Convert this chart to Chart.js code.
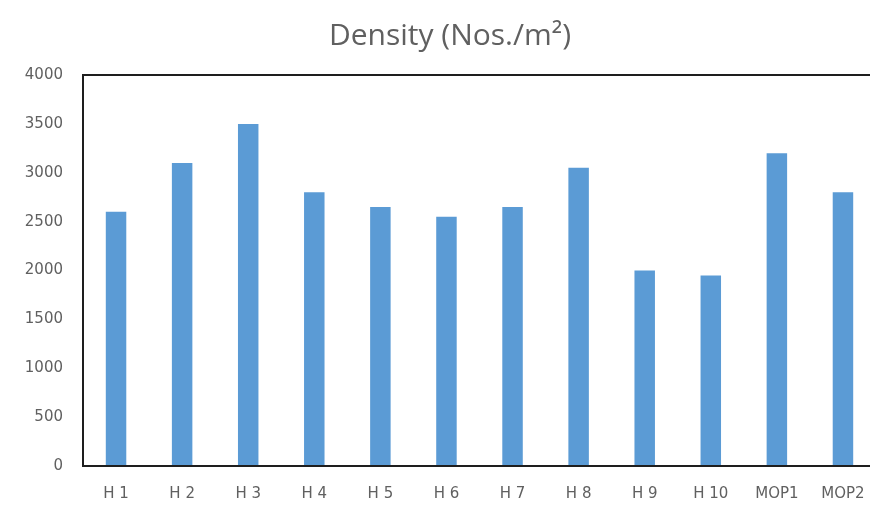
<!DOCTYPE html>
<html>
<head>
<meta charset="utf-8">
<script src="https://cdn.jsdelivr.net/npm/chart.js@4"></script>
<style>
  html, body { margin: 0; padding: 0; background: #fff; overflow: hidden; }
  #wrap { width: 900px; height: 510px; }
</style>
</head>
<body>
<div id="wrap"><canvas id="density-chart" width="900" height="510"></canvas></div>
<script>
// Chart data
const SITES = ['H 1', 'H 2', 'H 3', 'H 4', 'H 5', 'H 6', 'H 7', 'H 8', 'H 9', 'H 10', 'MOP1', 'MOP2'];
const DENSITY = [2600, 3100, 3500, 2800, 2650, 2550, 2650, 3050, 2000, 1950, 3200, 2800];
const Y_MIN = 0;
const Y_MAX = 4000;
const Y_STEP = 500;

const TEXT_COLOR = '#606060';
const BAR_COLOR = '#5B9BD5';
const TICK_FONT = { family: 'DejaVu Sans', size: 15 };

// Draws the dark frame around the plot area (right edge falls off the canvas)
const plotFrame = {
    id: 'plotFrame',
    afterDraw(chart) {
        const { ctx, chartArea } = chart;
        ctx.save();
        ctx.strokeStyle = '#1e1e1e';
        ctx.lineWidth = 2;
        ctx.strokeRect(chartArea.left, chartArea.top, chartArea.width, chartArea.bottom - chartArea.top);
        ctx.restore();
    }
};

const ctx = document.getElementById('density-chart').getContext('2d');
new Chart(ctx, {
    type: 'bar',
    data: {
        labels: SITES,
        datasets: [{
            label: 'Density',
            data: DENSITY,
            backgroundColor: BAR_COLOR,
            borderWidth: 0,
            categoryPercentage: 1,
            barPercentage: 0.31
        }]
    },
    options: {
        responsive: false,
        animation: false,
        // equal side padding keeps the title centred on the canvas
        layout: { padding: { left: 24, right: 24, top: 0, bottom: 0 } },
        plugins: {
            legend: { display: false },
            tooltip: { enabled: false },
            title: {
                display: true,
                text: 'Density (Nos./m²)',
                color: TEXT_COLOR,
                font: { family: 'Open Sans', size: 30, weight: 'normal', lineHeight: 1.2 },
                padding: { top: 18, bottom: 21 }
            }
        },
        scales: {
            x: {
                grid: { display: false },
                border: { display: false },
                ticks: {
                    color: TEXT_COLOR,
                    font: TICK_FONT,
                    padding: 11,
                    maxRotation: 0,
                    autoSkip: false
                },
                afterFit(scale) { scale.height = 44; }
            },
            y: {
                min: Y_MIN,
                max: Y_MAX,
                grid: { display: false },
                border: { display: false },
                ticks: {
                    stepSize: Y_STEP,
                    color: TEXT_COLOR,
                    font: TICK_FONT,
                    padding: 12,
                    callback: (value) => String(value)
                },
                afterFit(scale) { scale.width = 59; }
            }
        }
    },
    plugins: [plotFrame]
});
</script>
</body>
</html>
